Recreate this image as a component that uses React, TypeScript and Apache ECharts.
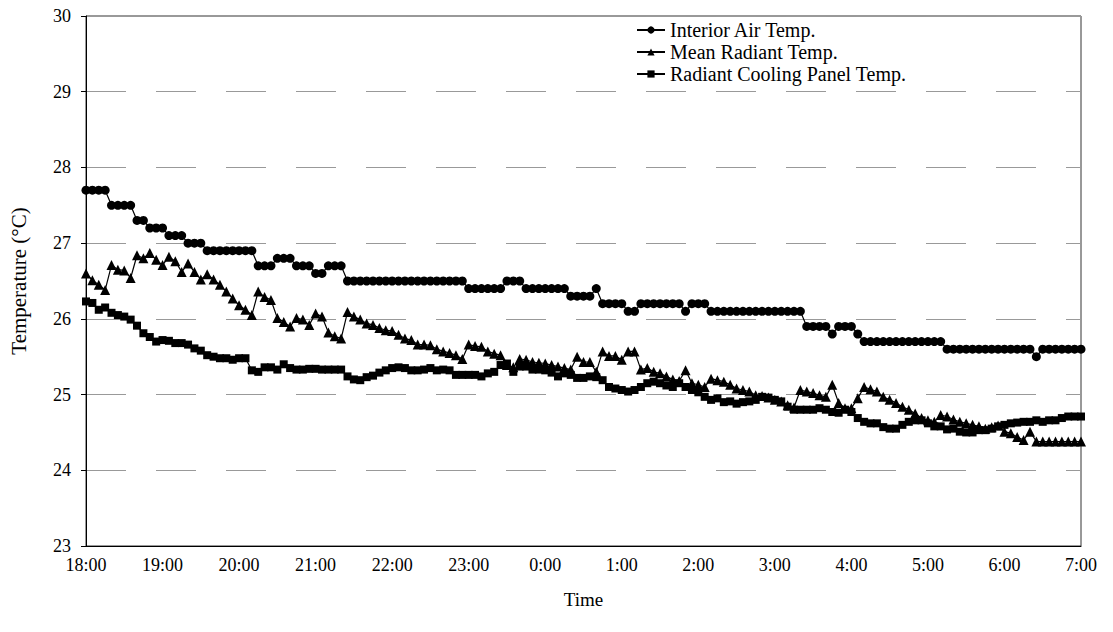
import React, { useEffect, useRef } from "react";
import * as echarts from "echarts";

const hourLabels = ["18:00", "19:00", "20:00", "21:00", "22:00", "23:00", "0:00", "1:00", "2:00", "3:00", "4:00", "5:00", "6:00", "7:00"];
const stepMinutes = 5;
const yTicks = { min: 23, max: 30, interval: 1 };

// one reading every 5 minutes, 18:00 -> 7:00
const interiorAir = [
  27.7, 27.7, 27.7, 27.7, 27.5, 27.5, 27.5, 27.5, 27.3, 27.3, 27.2, 27.2,
  27.2, 27.1, 27.1, 27.1, 27.0, 27.0, 27.0, 26.9, 26.9, 26.9, 26.9, 26.9,
  26.9, 26.9, 26.9, 26.7, 26.7, 26.7, 26.8, 26.8, 26.8, 26.7, 26.7, 26.7,
  26.6, 26.6, 26.7, 26.7, 26.7, 26.5, 26.5, 26.5, 26.5, 26.5, 26.5, 26.5,
  26.5, 26.5, 26.5, 26.5, 26.5, 26.5, 26.5, 26.5, 26.5, 26.5, 26.5, 26.5,
  26.4, 26.4, 26.4, 26.4, 26.4, 26.4, 26.5, 26.5, 26.5, 26.4, 26.4, 26.4,
  26.4, 26.4, 26.4, 26.4, 26.3, 26.3, 26.3, 26.3, 26.4, 26.2, 26.2, 26.2,
  26.2, 26.1, 26.1, 26.2, 26.2, 26.2, 26.2, 26.2, 26.2, 26.2, 26.1, 26.2,
  26.2, 26.2, 26.1, 26.1, 26.1, 26.1, 26.1, 26.1, 26.1, 26.1, 26.1, 26.1,
  26.1, 26.1, 26.1, 26.1, 26.1, 25.9, 25.9, 25.9, 25.9, 25.8, 25.9, 25.9,
  25.9, 25.8, 25.7, 25.7, 25.7, 25.7, 25.7, 25.7, 25.7, 25.7, 25.7, 25.7,
  25.7, 25.7, 25.7, 25.6, 25.6, 25.6, 25.6, 25.6, 25.6, 25.6, 25.6, 25.6,
  25.6, 25.6, 25.6, 25.6, 25.6, 25.5, 25.6, 25.6, 25.6, 25.6, 25.6, 25.6,
  25.6,
];

const meanRadiant = [
  26.60, 26.51, 26.45, 26.38, 26.71, 26.65, 26.64, 26.54, 26.84, 26.80, 26.87, 26.78,
  26.71, 26.82, 26.76, 26.62, 26.73, 26.62, 26.52, 26.59, 26.52, 26.45, 26.36, 26.27,
  26.18, 26.12, 26.05, 26.36, 26.29, 26.25, 26.01, 25.96, 25.90, 26.01, 25.99, 25.92,
  26.07, 26.03, 25.82, 25.77, 25.74, 26.09, 26.03, 25.99, 25.94, 25.92, 25.88, 25.85,
  25.84, 25.79, 25.74, 25.72, 25.66, 25.66, 25.65, 25.60, 25.57, 25.55, 25.52, 25.47,
  25.66, 25.64, 25.63, 25.57, 25.54, 25.52, 25.39, 25.36, 25.47, 25.46, 25.43, 25.42,
  25.41, 25.39, 25.37, 25.35, 25.33, 25.50, 25.43, 25.43, 25.30, 25.57, 25.51, 25.51,
  25.46, 25.57, 25.57, 25.33, 25.35, 25.30, 25.28, 25.24, 25.20, 25.18, 25.32, 25.15,
  25.13, 25.10, 25.21, 25.19, 25.17, 25.13, 25.08, 25.06, 25.04, 24.99, 24.98, 24.96,
  24.93, 24.91, 24.86, 24.83, 25.06, 25.04, 25.02, 24.99, 24.97, 25.13, 24.89, 24.82,
  24.82, 24.95, 25.10, 25.07, 25.04, 24.97, 24.93, 24.89, 24.84, 24.80, 24.75, 24.69,
  24.66, 24.64, 24.73, 24.71, 24.67, 24.64, 24.62, 24.60, 24.58, 24.55, 24.57, 24.59,
  24.51, 24.49, 24.44, 24.40, 24.51, 24.38, 24.38, 24.38, 24.38, 24.38, 24.38, 24.38,
  24.38,
];

const panelTemp = [
  26.23, 26.21, 26.12, 26.15, 26.08, 26.05, 26.03, 25.99, 25.91, 25.81, 25.76, 25.70,
  25.72, 25.71, 25.68, 25.68, 25.66, 25.61, 25.58, 25.52, 25.50, 25.48, 25.48, 25.46,
  25.48, 25.48, 25.32, 25.30, 25.36, 25.36, 25.33, 25.40, 25.35, 25.33, 25.33, 25.34,
  25.34, 25.33, 25.33, 25.33, 25.33, 25.24, 25.20, 25.19, 25.23, 25.25, 25.29, 25.32,
  25.35, 25.36, 25.35, 25.32, 25.32, 25.33, 25.35, 25.32, 25.33, 25.32, 25.26, 25.26,
  25.26, 25.26, 25.24, 25.28, 25.30, 25.39, 25.41, 25.30, 25.37, 25.37, 25.33, 25.33,
  25.32, 25.29, 25.24, 25.28, 25.26, 25.22, 25.22, 25.24, 25.23, 25.19, 25.10, 25.08,
  25.06, 25.04, 25.06, 25.10, 25.15, 25.17, 25.15, 25.12, 25.10, 25.15, 25.10, 25.06,
  25.03, 24.97, 24.93, 24.95, 24.90, 24.91, 24.88, 24.90, 24.91, 24.93, 24.97, 24.96,
  24.93, 24.91, 24.84, 24.80, 24.80, 24.80, 24.80, 24.82, 24.80, 24.77, 24.76, 24.80,
  24.77, 24.69, 24.64, 24.62, 24.62, 24.57, 24.55, 24.55, 24.60, 24.64, 24.66, 24.66,
  24.62, 24.58, 24.58, 24.54, 24.55, 24.51, 24.50, 24.50, 24.53, 24.53, 24.55, 24.58,
  24.60, 24.62, 24.63, 24.64, 24.64, 24.66, 24.64, 24.66, 24.66, 24.69, 24.71, 24.71,
  24.71,
];

const seriesNames = ["Interior Air Temp.", "Mean Radiant Temp.", "Radiant Cooling Panel Temp."];

const FONT = "'Liberation Serif', 'Times New Roman', serif";

function toPairs(vals: number[]) {
  return vals.map((v, i) => [i * stepMinutes, v]);
}

export default function App() {
  const ref = useRef<HTMLDivElement>(null);

  useEffect(() => {
    if (!ref.current) return;
    const chart = echarts.init(ref.current, undefined, { renderer: "svg" });
    const mk = (name: string, data: number[], symbol: string, size: number) => ({
      name,
      type: "line",
      data: toPairs(data),
      symbol,
      symbolSize: size,
      showAllSymbol: true,
      lineStyle: { color: "#000", width: 1.2 },
      itemStyle: { color: "#000", borderColor: "#000", borderWidth: 0 },
      emphasis: { disabled: true },
    });
    chart.setOption({
      animation: false,
      backgroundColor: "#fff",
      textStyle: { fontFamily: FONT, color: "#000" },
      grid: {
        left: 84,
        right: 32,
        top: 16,
        bottom: 86,
        show: true,
        borderColor: "#333",
        borderWidth: 1,
        backgroundColor: "transparent",
      },
      legend: {
        orient: "vertical",
        left: 631,
        top: 15,
        itemWidth: 28,
        itemHeight: 9,
        itemGap: 2,
        data: seriesNames,
        textStyle: { fontFamily: FONT, fontSize: 20, color: "#000" },
      },
      xAxis: {
        type: "value",
        min: 0,
        max: (hourLabels.length - 1) * 60,
        interval: 60,
        name: "Time",
        nameLocation: "middle",
        nameGap: 44,
        nameTextStyle: { fontFamily: FONT, fontSize: 19, color: "#000" },
        axisLine: { show: true, lineStyle: { color: "#000", width: 1 } },
        axisTick: { show: false },
        axisLabel: {
          margin: 10,
          fontFamily: FONT,
          fontSize: 18,
          color: "#000",
          formatter: (v: number) => hourLabels[Math.round(v / 60)] ?? "",
        },
        splitLine: { show: false },
      },
      yAxis: {
        type: "value",
        min: yTicks.min,
        max: yTicks.max,
        interval: yTicks.interval,
        name: "Temperature (°C)",
        nameLocation: "middle",
        nameGap: 57,
        nameRotate: 90,
        nameTextStyle: { fontFamily: FONT, fontSize: 21, color: "#000" },
        axisLine: { show: true, lineStyle: { color: "#000", width: 1 } },
        axisTick: { show: true, length: 5, lineStyle: { color: "#000" } },
        axisLabel: { margin: 15, fontFamily: FONT, fontSize: 18, color: "#000" },
        splitLine: {
          show: true,
          lineStyle: { color: "#999", width: 1, type: [40, 30] },
        },
      },
      series: [
        mk(seriesNames[0], interiorAir, "circle", 9),
        mk(seriesNames[1], meanRadiant, "triangle", 10),
        mk(seriesNames[2], panelTemp, "rect", 8),
      ],
    });
    return () => chart.dispose();
  }, []);

  return (
    <div
      ref={ref}
      style={{ position: "fixed", left: 0, top: 0, width: 1113, height: 632, background: "#fff" }}
    />
  );
}
